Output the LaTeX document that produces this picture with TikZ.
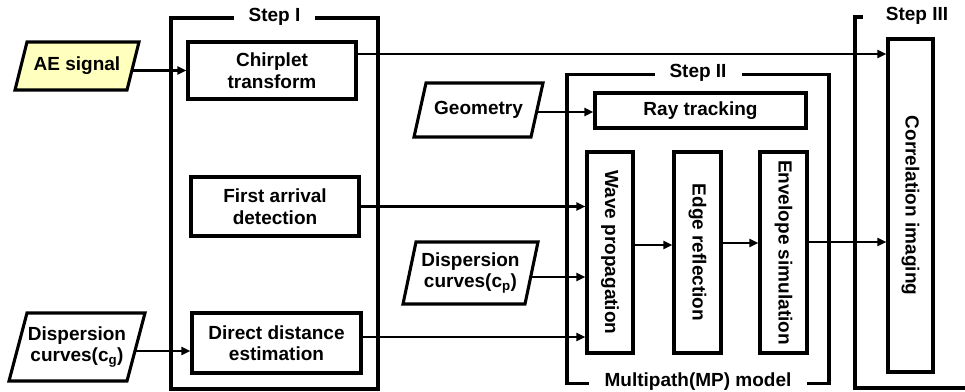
\documentclass[tikz,border=0pt]{standalone}
\usepackage{fontspec}
\setmainfont{Liberation Sans}
\usetikzlibrary{arrows.meta}
\definecolor{aeyellow}{RGB}{255,255,190}
\begin{document}
\begin{tikzpicture}[x=1pt,y=-1pt,
  font=\fontsize{19}{21.5}\selectfont\bfseries,
  frame/.style={draw, line width=3.2pt, inner sep=0pt},
  lab/.style={fill=white, inner ysep=2pt, inner xsep=15pt},
  proc/.style={draw, line width=3.1pt, inner sep=0pt, align=center},
  io/.style={draw, line width=3.1pt, line join=miter},
  iot/.style={inner sep=0pt, align=center},
  arr/.style={line width=2.1pt, -{Triangle[length=9pt,width=8pt]}}]
\clip (0,0) rectangle (965,391);
\fill[white] (0,0) rectangle (965,391);
% frames
\node[frame, minimum width=262, minimum height=309] (s2) at (698,229) {};
\node[frame, minimum width=207, minimum height=371] (s1) at (274.5,203.5) {};
\node[frame, minimum width=124, minimum height=371] (s3) at (917,202.5) {};
\node[lab] (l1) at (s1.north) {Step I};
\node[lab] (l2) at (s2.north) {Step II};
\node[lab, inner xsep=23pt] (l3) at (s3.north) {Step III};
\node[lab, inner xsep=16pt, inner ysep=0pt, anchor=base] (l4) at (698,386) {Multipath(MP) model};
% input parallelograms
\draw[io, fill=aeyellow] (15,90) -- (27,42) -- (139,42) -- (127,90) -- cycle;
\node[iot, minimum width=112, minimum height=48] (ae) at (77,66) {AE signal};
\draw[io] (9,381) -- (27,313) -- (145,313) -- (127,381) -- cycle;
\node[iot, minimum width=118, minimum height=68] (cg) at (77,347) {Dispersion\\curves(c\textsubscript{g})};
\draw[io] (414,137) -- (426,83) -- (543,83) -- (531,137) -- cycle;
\node[iot, minimum width=117, minimum height=54] (geo) at (478.5,110) {Geometry};
\draw[io] (403,304) -- (416,242) -- (538,242) -- (525,304) -- cycle;
\node[iot, minimum width=122, minimum height=62] (cp) at (470.5,273) {Dispersion\\curves(c\textsubscript{p})};
% process boxes
\node[proc, minimum width=168, minimum height=57] (chirp) at (272,70.5) {Chirplet\\transform};
\node[proc, minimum width=168, minimum height=59] (first) at (275,206.5) {First arrival\\detection};
\node[proc, minimum width=169, minimum height=60] (direct) at (276.5,343) {Direct distance\\estimation};
\node[proc, minimum width=211, minimum height=35] (ray) at (700.5,110.5) {Ray tracking};
\node[proc, minimum width=46, minimum height=201] (wave) at (610,252.5) {\rotatebox{-90}{Wave propagation}};
\node[proc, minimum width=47, minimum height=201] (edge) at (697.5,252.5) {\rotatebox{-90}{Edge reflection}};
\node[proc, minimum width=47, minimum height=201] (env) at (783.5,252.5) {\rotatebox{-90}{Envelope simulation}};
\node[proc, minimum width=45, minimum height=333] (corr) at (910.5,205.5) {\rotatebox{-90}{Correlation imaging}};
% connectors
\draw[arr] (ae.east |- chirp.west) -- (chirp.west);
\coordinate (c1) at ([yshift=16.5pt]chirp.east);
\draw[arr] (c1) -- (c1 -| corr.west);
\draw[arr] (first.east) -- (first.east -| wave.west);
\coordinate (g1) at ([yshift=-4pt]cg.east);
\draw[arr] (g1) -- (g1 -| direct.west);
\coordinate (d1) at ([yshift=6pt]direct.east);
\draw[arr] (d1) -- (d1 -| wave.west);
\coordinate (ge1) at ([yshift=-2pt]geo.east);
\draw[arr] (ge1) -- (ge1 -| ray.west);
\coordinate (p1) at ([yshift=-4pt]cp.east);
\draw[arr] (p1) -- (p1 -| wave.west);
\coordinate (m1) at (640,245);
\coordinate (m2) at (730,243);
\coordinate (m3) at (840,242);
\draw[arr] (wave.east |- m1) -- (edge.west |- m1);
\draw[arr] (edge.east |- m2) -- (env.west |- m2);
\draw[arr] (env.east |- m3) -- (corr.west |- m3);
\end{tikzpicture}
\end{document}
